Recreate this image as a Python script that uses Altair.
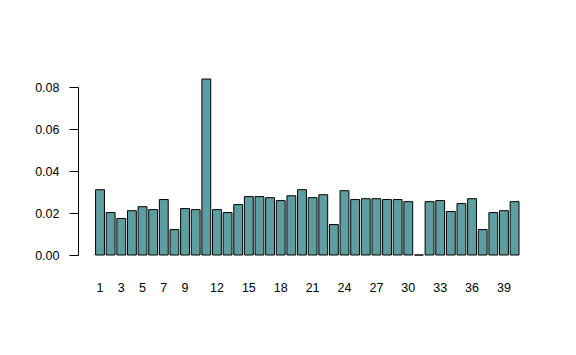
import altair as alt
import pandas as pd

indices = list(range(1, 41))
values = [0.0311, 0.0202, 0.0174, 0.0211, 0.0230, 0.0216, 0.0264, 0.0121, 0.0221, 0.0216,
          0.0838, 0.0216, 0.0202, 0.0240, 0.0278, 0.0278, 0.0273, 0.0259, 0.0282, 0.0311,
          0.0273, 0.0287, 0.0145, 0.0306, 0.0264, 0.0268, 0.0268, 0.0264, 0.0264, 0.0254,
          0.0000, 0.0254, 0.0259, 0.0207, 0.0245, 0.0268, 0.0121, 0.0202, 0.0211, 0.0254]
x_labels = [1, 3, 5, 7, 9, 12, 15, 18, 21, 24, 27, 30, 33, 36, 39]
y_ticks = [0.0, 0.02, 0.04, 0.06, 0.08]

df = pd.DataFrame({"idx": indices, "value": values})

FONT = "Liberation Sans"

chart = alt.Chart(df).mark_bar(
    fill="#5F9EA0", stroke="black", strokeWidth=1, clip=False
).encode(
    x=alt.X("idx:O", sort=indices,
            scale=alt.Scale(paddingInner=0.1667, paddingOuter=0.0833, range=[16.7, 441.9]),
            axis=alt.Axis(values=x_labels, labelAngle=0, domain=False, ticks=False,
                          tickSize=0, labelPadding=26, title=None, labelFont=FONT,
                          labelFontSize=12.5, labelColor="black", grid=False)),
    y=alt.Y("value:Q",
            scale=alt.Scale(domain=[0, 0.08], nice=False, zero=True),
            axis=alt.Axis(values=y_ticks, format=".2f", title=None, grid=False,
                          domainColor="black", tickColor="black", tickSize=9,
                          labelPadding=10, labelFont=FONT, labelFontSize=12.5,
                          labelColor="black")),
).properties(
    width=457, height=168,
    background="white",
    autosize=alt.AutoSizeParams(type="none"),
    padding={"left": 78, "top": 87, "right": 41, "bottom": 100},
).configure_view(stroke=None, strokeWidth=0)

chart.save("out.html", embed_options={"renderer": "svg", "actions": False})
